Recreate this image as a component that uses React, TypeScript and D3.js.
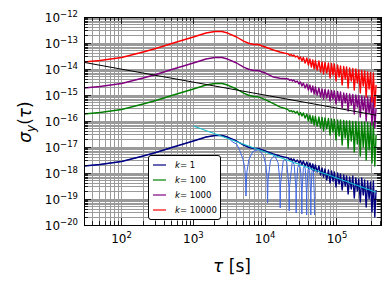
import React, { useRef, useEffect } from 'react';
import * as d3 from 'd3';

// averaging times (s) shared by the four measured curves
const tau = [
  30, 50, 100, 200, 300, 500, 1000, 1500, 2000, 2500, 3000, 4000, 5000, 6000, 7000, 8000, 10000, 13000, 16000, 20000,
  21000, 22000, 23000, 24000, 25000, 26500, 28000, 29500, 31000, 32500,
  34000, 36000, 38000, 40000, 42000, 44000, 46000, 48000, 50000, 53000,
  56000, 59000, 62000, 65000, 68000, 72000, 76000, 80000, 84000, 88000,
  92000, 97000, 102000, 107000, 112000, 118000, 124000, 130000, 136000, 143000,
  150000, 158000, 166000, 174000, 183000, 192000, 201000, 211000, 221000, 232000,
  243000, 255000, 267000, 280000, 293000, 307000, 321000, 336000, 350000,
];

const sigK1 = [
  1.86e-18, 2.12e-18, 2.77e-18, 4.51e-18, 6.15e-18, 9.57e-18, 1.7e-17, 2.42e-17, 2.77e-17, 2.77e-17,
  2.42e-17, 1.7e-17, 1.19e-17, 9.57e-18, 8.75e-18, 8.75e-18, 7.02e-18, 5.38e-18, 4.51e-18, 3.9e-18,
  3.78e-18, 3.16e-18, 3.61e-18, 2.89e-18, 3.46e-18, 2.65e-18, 3.16e-18, 2.42e-18, 3.03e-18, 2.03e-18,
  2.89e-18, 1.86e-18, 2.65e-18, 1.56e-18, 2.42e-18, 1.42e-18, 2.22e-18, 1.19e-18, 2.03e-18, 1.09e-18,
  1.86e-18, 8.38e-19, 1.56e-18, 7.02e-19, 1.42e-18, 5.38e-19, 1.3e-18, 4.12e-19, 1.19e-18, 4.92e-19,
  1.09e-18, 2.89e-19, 1.0e-18, 3.78e-19, 9.15e-19, 2.22e-19, 8.38e-19, 3.16e-19, 7.67e-19, 1.56e-19,
  7.02e-19, 2.42e-19, 7.67e-19, 1.09e-19, 6.42e-19, 2.03e-19, 5.88e-19, 7.67e-20, 6.42e-19, 1.42e-19,
  5.38e-19, 4.92e-20, 4.92e-19, 1.0e-19, 4.51e-19, 3.16e-20, 4.92e-19, 2.03e-20, 2.22e-19,
];

const sigK100 = [
  1.86e-16, 2.12e-16, 2.77e-16, 4.51e-16, 6.15e-16, 9.57e-16, 1.7e-15, 2.42e-15, 2.77e-15, 2.77e-15,
  2.42e-15, 1.7e-15, 1.19e-15, 9.57e-16, 8.75e-16, 8.5e-16, 6.6e-16, 4.7e-16, 3.5e-16, 2.89e-16,
  2.65e-16, 2.32e-16, 2.53e-16, 2.22e-16, 2.42e-16, 2.03e-16, 2.32e-16, 1.7e-16, 2.12e-16, 1.56e-16,
  2.03e-16, 1.3e-16, 1.86e-16, 1.0e-16, 1.7e-16, 8.38e-17, 1.56e-16, 7.02e-17, 1.49e-16, 6.42e-17,
  1.42e-16, 5.38e-17, 1.36e-16, 4.12e-17, 1.3e-16, 4.92e-17, 1.25e-16, 2.89e-17, 1.19e-16, 3.78e-17,
  1.14e-16, 1.86e-17, 1.09e-16, 2.65e-17, 1.09e-16, 1.19e-17, 1.04e-16, 2.22e-17, 1.0e-16, 9.15e-18,
  1.0e-16, 1.7e-17, 9.57e-17, 6.42e-18, 9.57e-17, 1.3e-17, 9.15e-17, 4.51e-18, 9.15e-17, 1.0e-17,
  9.15e-17, 3.16e-18, 8.75e-17, 7.67e-18, 8.38e-17, 2.42e-18, 8.75e-17, 1.86e-18, 2.89e-17,
];

const sigK1000 = [
  1.86e-15, 2.12e-15, 2.77e-15, 4.51e-15, 6.15e-15, 9.57e-15, 1.7e-14, 2.42e-14, 2.77e-14, 2.77e-14,
  2.42e-14, 1.7e-14, 1.19e-14, 9.57e-15, 8.75e-15, 8.75e-15, 7.02e-15, 4.9e-15, 4.4e-15, 4.2e-15,
  4.12e-15, 3.61e-15, 3.94e-15, 3.46e-15, 3.78e-15, 3.16e-15, 3.46e-15, 2.65e-15, 3.16e-15, 2.22e-15,
  2.89e-15, 1.86e-15, 2.65e-15, 1.56e-15, 2.42e-15, 1.3e-15, 2.22e-15, 1.09e-15, 2.03e-15, 1.0e-15,
  1.86e-15, 8.38e-16, 1.7e-15, 7.02e-16, 1.63e-15, 7.67e-16, 1.56e-15, 5.88e-16, 1.49e-15, 7.02e-16,
  1.42e-15, 4.51e-16, 1.36e-15, 5.88e-16, 1.3e-15, 3.16e-16, 1.19e-15, 4.92e-16, 1.14e-15, 2.42e-16,
  1.09e-15, 4.12e-16, 1.04e-15, 1.86e-16, 1.0e-15, 3.46e-16, 9.57e-16, 1.42e-16, 9.15e-16, 2.65e-16,
  8.38e-16, 1.0e-16, 8.38e-16, 2.03e-16, 8.01e-16, 7.02e-17, 7.67e-16, 5.38e-17, 3.16e-16,
];

const sigK10000 = [
  1.86e-14, 2.12e-14, 2.77e-14, 4.51e-14, 6.15e-14, 9.57e-14, 1.7e-13, 2.42e-13, 2.77e-13, 2.77e-13,
  2.42e-13, 1.7e-13, 1.19e-13, 9.57e-14, 8.75e-14, 8.75e-14, 7.02e-14, 5.38e-14, 4.51e-14, 3.9e-14,
  3.78e-14, 3.31e-14, 3.61e-14, 3.16e-14, 3.46e-14, 2.89e-14, 3.16e-14, 2.42e-14, 2.89e-14, 2.03e-14,
  2.77e-14, 1.7e-14, 2.65e-14, 1.42e-14, 2.42e-14, 1.19e-14, 2.22e-14, 1.0e-14, 2.12e-14, 9.15e-15,
  2.03e-14, 7.67e-15, 1.86e-14, 6.42e-15, 1.78e-14, 7.02e-15, 1.7e-14, 4.51e-15, 1.63e-14, 5.88e-15,
  1.56e-14, 3.46e-15, 1.42e-14, 4.92e-15, 1.3e-14, 2.42e-15, 1.25e-14, 4.12e-15, 1.19e-14, 1.86e-15,
  1.09e-14, 3.46e-15, 1.04e-14, 1.56e-15, 1.0e-14, 2.89e-15, 9.15e-15, 1.19e-15, 8.75e-15, 2.22e-15,
  8.38e-15, 8.38e-16, 7.67e-15, 1.7e-15, 7.34e-15, 5.38e-16, 7.02e-15, 3.46e-16, 2.42e-15,
];

// model curve, zeros every ~5400 s
const tauModel = [
  30, 50, 100, 200, 300, 500, 1000, 1500, 2000, 2500, 3000, 3500, 4000, 4400, 4900, 5200, 5330, 5400,
  5560, 5940, 6750, 8100, 9450, 10260, 10640, 10800,
  10960, 11880, 13500, 15120, 15960, 16200,
  16360, 17820, 18900, 19980, 21440, 21600,
  21760, 23760, 24300, 25380, 26840, 27000,
  27160, 28350, 29700, 31050, 32240, 32400,
  32560, 34020, 35100, 36180, 37640, 37800,
  37960, 39420, 40500, 41580, 43040, 43200,
  43360, 44820, 45900, 46980, 48440, 48600,
];
const sigModel = [
  1.86e-18, 2.12e-18, 2.77e-18, 4.51e-18, 6.15e-18, 9.57e-18, 1.7e-17, 2.42e-17, 2.77e-17, 2.77e-17, 2.42e-17, 1.56e-17, 1.3e-17, 7.67e-18, 3.46e-18, 1.56e-18, 5.38e-19, 1.3e-19,
  1.08e-18, 3.33e-18, 6.7e-18, 7.9e-18, 4.79e-18, 1.93e-18, 5.66e-19, 7.02e-20,
  5.5e-19, 3.17e-18, 4.74e-18, 2.49e-18, 5.65e-19, 4.51e-20,
  3.68e-19, 2.9e-18, 3.39e-18, 2.59e-18, 2.81e-19, 3.46e-20,
  2.77e-19, 2.56e-18, 2.63e-18, 2.04e-18, 2.25e-19, 2.89e-20,
  2.22e-19, 1.6e-18, 2.15e-18, 1.46e-18, 1.87e-19, 2.65e-20,
  1.85e-19, 1.52e-18, 1.82e-18, 1.43e-18, 1.6e-19, 2.42e-20,
  1.59e-19, 1.31e-18, 1.58e-18, 1.25e-18, 1.4e-19, 2.42e-20,
  1.39e-19, 1.16e-18, 1.39e-18, 1.1e-18, 1.24e-19, 2.42e-20,
];

// straight reference lines
const tauWhite = [30, 350000];
const sigWhite = [1.8e-14, 1.67e-16];
const tauSlope = [1000, 350000];
const sigSlope = [6.4e-17, 1.83e-19];

const legendK = ['1', '100', '1000', '10000'];
const kColors = ['#000080', '#008000', '#800080', '#ff0000'];

const App = () => {
  const ref = useRef(null);

  useEffect(() => {
    const svg = d3.select(ref.current);
    svg.selectAll('*').remove();

    const left = 84, right = 381, top = 17, bottom = 225;
    const font = "'DejaVu Sans', sans-serif";

    const x = d3.scaleLog().domain([30, 4.1e5]).range([left, right]);
    const y = d3.scaleLog().domain([1e-20, 1e-12]).range([bottom, top]);

    svg.append('rect').attr('width', 390).attr('height', 285).attr('fill', '#fff');

    svg.append('clipPath').attr('id', 'plot-clip')
      .append('rect')
      .attr('x', left).attr('y', top)
      .attr('width', right - left).attr('height', bottom - top);

    // tick positions: every integer multiple in each decade
    const xTicks = [];
    for (let e = 1; e <= 5; e++) {
      for (let m = 1; m <= 9; m++) {
        const v = m * Math.pow(10, e);
        if (v >= 30 && v <= 4.1e5) xTicks.push({ v, major: m === 1, e });
      }
    }
    const yTicks = [];
    for (let e = -20; e <= -12; e++) {
      for (let m = 1; m <= 9; m++) {
        if (e === -12 && m > 1) break;
        yTicks.push({ v: m * Math.pow(10, e), major: m === 1, e });
      }
    }

    // grid
    const grid = svg.append('g')
      .attr('stroke', '#9a9a9a')
      .attr('stroke-width', 1)
      .attr('shape-rendering', 'crispEdges');
    xTicks.forEach(t => {
      grid.append('line')
        .attr('x1', x(t.v)).attr('x2', x(t.v))
        .attr('y1', top).attr('y2', bottom);
    });
    yTicks.forEach(t => {
      grid.append('line')
        .attr('x1', left).attr('x2', right)
        .attr('y1', y(t.v)).attr('y2', y(t.v));
    });

    // curves
    const line = d3.line().x(d => x(d[0])).y(d => y(d[1]));
    const plot = svg.append('g').attr('clip-path', 'url(#plot-clip)');
    const draw = (xs, ys, color, w) => {
      plot.append('path')
        .datum(xs.map((t, i) => [t, ys[i]]))
        .attr('fill', 'none')
        .attr('stroke', color)
        .attr('stroke-width', w)
        .attr('stroke-linejoin', 'round')
        .attr('d', line);
    };

    draw(tauModel, sigModel, '#4169e1', 1);
    [sigK1, sigK100, sigK1000, sigK10000].forEach((s, i) => draw(tau, s, kColors[i], 1.4));
    draw(tauWhite, sigWhite, '#000', 1);
    draw(tauSlope, sigSlope, '#17becf', 1.1);

    // ticks, inward on all four sides
    const tk = svg.append('g')
      .attr('stroke', '#000')
      .attr('stroke-width', 0.8)
      .attr('shape-rendering', 'crispEdges');
    xTicks.forEach(t => {
      const len = t.major ? 7 : 4;
      const px = x(t.v);
      tk.append('line').attr('x1', px).attr('x2', px).attr('y1', bottom).attr('y2', bottom - len);
      tk.append('line').attr('x1', px).attr('x2', px).attr('y1', top).attr('y2', top + len);
    });
    yTicks.forEach(t => {
      const len = t.major ? 7 : 4;
      const py = y(t.v);
      tk.append('line').attr('x1', left).attr('x2', left + len).attr('y1', py).attr('y2', py);
      tk.append('line').attr('x1', right).attr('x2', right - len).attr('y1', py).attr('y2', py);
    });

    svg.append('rect')
      .attr('x', left).attr('y', top)
      .attr('width', right - left).attr('height', bottom - top)
      .attr('fill', 'none')
      .attr('stroke', '#000')
      .attr('stroke-width', 1)
      .attr('shape-rendering', 'crispEdges');

    // tick labels
    xTicks.filter(t => t.major).forEach(t => {
      const txt = svg.append('text')
        .attr('x', x(t.v)).attr('y', 243)
        .attr('text-anchor', 'middle')
        .attr('font-family', font)
        .attr('font-size', 12)
        .attr('fill', '#000');
      txt.append('tspan').text('10');
      txt.append('tspan').attr('dy', -5).attr('font-size', 8.5).text(String(t.e));
    });
    yTicks.filter(t => t.major).forEach(t => {
      const txt = svg.append('text')
        .attr('x', 78).attr('y', y(t.v) + 4.5)
        .attr('text-anchor', 'end')
        .attr('font-family', font)
        .attr('font-size', 12)
        .attr('fill', '#000');
      txt.append('tspan').text('10');
      txt.append('tspan').attr('dy', -5).attr('font-size', 8.5).text('\u2212' + Math.abs(t.e));
    });

    // axis labels
    const xl = svg.append('text')
      .attr('x', 232).attr('y', 272)
      .attr('text-anchor', 'middle')
      .attr('font-family', font)
      .attr('font-size', 17);
    xl.append('tspan').attr('font-style', 'italic').text('\u03c4');
    xl.append('tspan').text(' [s]');

    const yl = svg.append('text')
      .attr('transform', 'translate(31,122) rotate(-90)')
      .attr('text-anchor', 'middle')
      .attr('font-family', font)
      .attr('font-size', 17);
    yl.append('tspan').attr('font-style', 'italic').text('\u03c3');
    yl.append('tspan').attr('font-style', 'italic').attr('font-size', 12).attr('dy', 4).text('y');
    yl.append('tspan').attr('dy', -4).text('(');
    yl.append('tspan').attr('font-style', 'italic').text('\u03c4');
    yl.append('tspan').text(')');

    // legend
    const lg = svg.append('g');
    lg.append('rect')
      .attr('x', 148.5).attr('y', 155.5)
      .attr('width', 72).attr('height', 64)
      .attr('rx', 2.5)
      .attr('fill', '#fff')
      .attr('stroke', '#000')
      .attr('stroke-width', 1);
    legendK.forEach((k, i) => {
      const ry = 165 + i * 15;
      lg.append('line')
        .attr('x1', 153).attr('x2', 166)
        .attr('y1', ry).attr('y2', ry)
        .attr('stroke', kColors[i])
        .attr('stroke-width', 1.2);
      const t = lg.append('text')
        .attr('x', 175).attr('y', ry + 3)
        .attr('font-family', font)
        .attr('font-size', 8.5);
      t.append('tspan').attr('font-style', 'italic').text('k');
      t.append('tspan').text('= ' + k);
    });
  }, []);

  return (
    <svg
      ref={ref}
      width={390}
      height={285}
      style={{ position: 'absolute', left: 0, top: 0 }}
    ></svg>
  );
};

export default App;
